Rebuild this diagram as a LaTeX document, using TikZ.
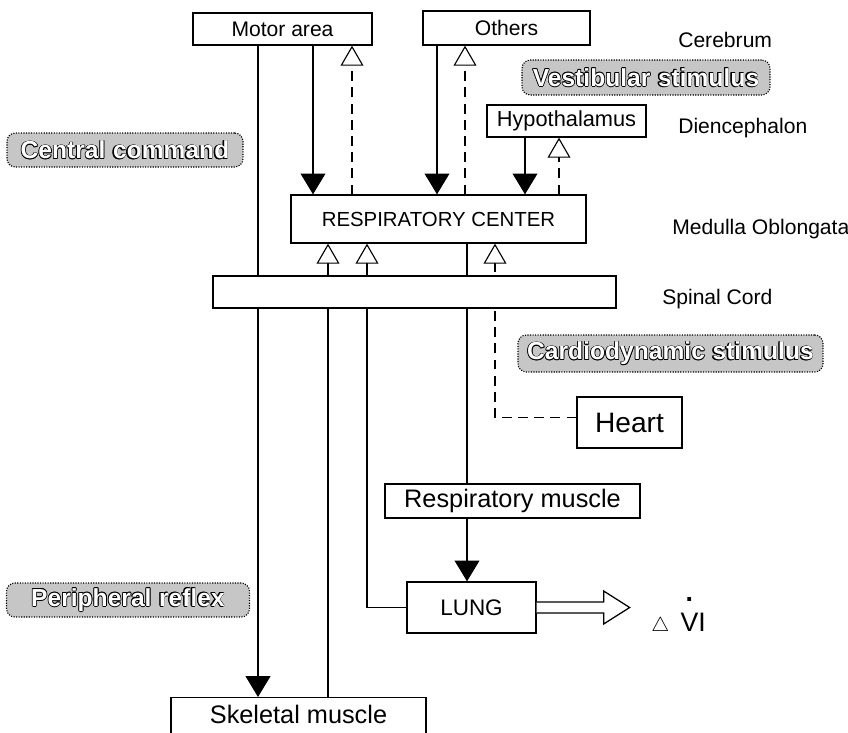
\documentclass[tikz,border=0pt]{standalone}
\usepackage{fontspec}
\setmainfont{Liberation Sans}
\usetikzlibrary{arrows.meta,backgrounds,calc,patterns}
\newcommand\olt[1]{{\ooalign{%
\kern-0.55pt#1\cr\kern0.55pt#1\cr\raisebox{0.55pt}{#1}\cr\raisebox{-0.55pt}{#1}\cr
\kern-0.4pt\raisebox{0.4pt}{#1}\cr\kern0.4pt\raisebox{0.4pt}{#1}\cr
\kern-0.4pt\raisebox{-0.4pt}{#1}\cr\kern0.4pt\raisebox{-0.4pt}{#1}\cr
\textcolor{white}{#1}\cr}}}
\begin{document}
\begin{tikzpicture}[x=0.025cm,y=-0.025cm,
 box/.style={draw, line width=0.9pt, fill=white, inner sep=0pt},
 stim/.style={draw, densely dotted, line width=0.8pt, fill=gray!45, rounded corners=6pt, inner sep=0pt, font=\fontsize{17.5}{17.5}\selectfont\bfseries},
 lab/.style={anchor=west, inner sep=0pt, font=\fontsize{15}{15}\selectfont},
 link/.style={line width=0.8pt},
 fwd/.style={link, -{Triangle[width=0.62cm, length=0.52cm]}},
 fb/.style={link, -{Triangle[fill=white, width=0.57cm, length=0.5cm]}},
 fbd/.style={fb, dash pattern=on 7pt off 4.5pt},
]
\useasboundingbox (0,0) rectangle (848,732);
\clip (0,0) rectangle (848,732);

% boxes
\node[box, minimum width=4.475cm, minimum height=0.8cm, font=\fontsize{15}{15}\selectfont] (motor) at (282.5,29) {Motor area};
\node[box, minimum width=4.175cm, minimum height=0.85cm, font=\fontsize{15}{15}\selectfont] (others) at (506.5,28) {Others};
\node[box, minimum width=3.975cm, minimum height=0.8cm, font=\fontsize{15.5}{15.5}\selectfont] (hypo) at (566.5,121) {Hypothalamus};
\node[box, minimum width=7.375cm, minimum height=1.2cm, font=\fontsize{14.5}{14.5}\selectfont] (resp) at (438.5,219) {RESPIRATORY CENTER};
\node[box, minimum width=10.075cm, minimum height=0.8cm] (spinal) at (414.5,292) {};
\node[box, minimum width=2.625cm, minimum height=1.275cm, font=\fontsize{20}{20}\selectfont] (heart) at (629.5,422.5) {Heart};
\node[box, minimum width=6.375cm, minimum height=0.85cm, font=\fontsize{18}{18}\selectfont] (rmus) at (512.5,501) {Respiratory muscle};
\node[box, minimum width=3.225cm, minimum height=1.275cm, font=\fontsize{16}{16}\selectfont] (lung) at (471.5,607.5) {LUNG};
\node[box, minimum width=6.375cm, minimum height=1.5cm, anchor=north] (skel) at (298.5,697) {};
\node[font=\fontsize{18}{18}\selectfont, inner sep=0pt] (skeltxt) at (298.5,714) {Skeletal muscle};

% level labels
\node[lab] (cereb) at (678,40) {Cerebrum};
\node[lab] (dien) at (678,128) {Diencephalon};
\node[lab] (medulla) at (672,229) {Medulla Oblongata};
\node[lab] (spc) at (662,299) {Spinal Cord};

% stimulus labels
\node[stim, minimum width=5.9cm, minimum height=0.85cm] (central) at (125,150) {\olt{Central command}};
\node[stim, minimum width=6.2cm, minimum height=0.875cm] (vest) at (646,77.5) {\olt{Vestibular stimulus}};
\node[stim, minimum width=7.625cm, minimum height=0.925cm] (cardio) at (670.5,353.5) {\olt{Cardiodynamic stimulus}};
\node[stim, minimum width=6.075cm, minimum height=0.85cm] (periph) at (128,600) {\olt{Peripheral reflex}};

% x positions of the vertical lines
\coordinate (c0) at (258,0);
\coordinate (c1) at (313,0);
\coordinate (c2) at (352,0);
\coordinate (c3) at (437,0);
\coordinate (c4) at (465,0);
\coordinate (c5) at (525,0);
\coordinate (c6) at (559,0);
\coordinate (c7) at (328,0);
\coordinate (c8) at (367,0);
\coordinate (c9) at (467,0);
\coordinate (c10) at (495,0);

\begin{scope}[on background layer]
\draw[fwd] (motor.south -| c0) -- (skel.north -| c0);
\draw[fwd] (motor.south -| c1) -- (resp.north -| c1);
\draw[fbd] (resp.north -| c2) -- (motor.south -| c2);
\draw[fwd] (others.south -| c3) -- (resp.north -| c3);
\draw[fbd] (resp.north -| c4) -- (others.south -| c4);
\draw[fwd] (hypo.south -| c5) -- (resp.north -| c5);
\draw[fbd] (resp.north -| c6) -- (hypo.south -| c6);
\draw[fb] (skel.north -| c7) -- (resp.south -| c7);
\draw[fb] (lung.west) -| (resp.south -| c8);
\draw[link] (resp.south -| c9) -- (rmus.north -| c9);
\draw[fwd] (rmus.south -| c9) -- (lung.north -| c9);
\draw[fbd] ($(heart.west)+(0,-5)$) -| (resp.south -| c10);
\end{scope}

% output arrow
\draw[line width=0.9pt, fill=white] ($(lung.east)+(0,-5.5)$) -- ++(67,0) -- ++(0,-11) -- ++(26,16.5) -- ++(-26,16.5) -- ++(0,-11) -- ++(-67,0);
\node[font=\fontsize{19}{19}\selectfont, anchor=base west, inner sep=0pt] (dvi) at (651,631)
  {{\fontsize{14}{14}\selectfont$\triangle$}\hspace{8pt}\ooalign{V\cr\hidewidth\raisebox{1.12em}{\textbf{.}}\hidewidth\cr}I};
\end{tikzpicture}
\end{document}
